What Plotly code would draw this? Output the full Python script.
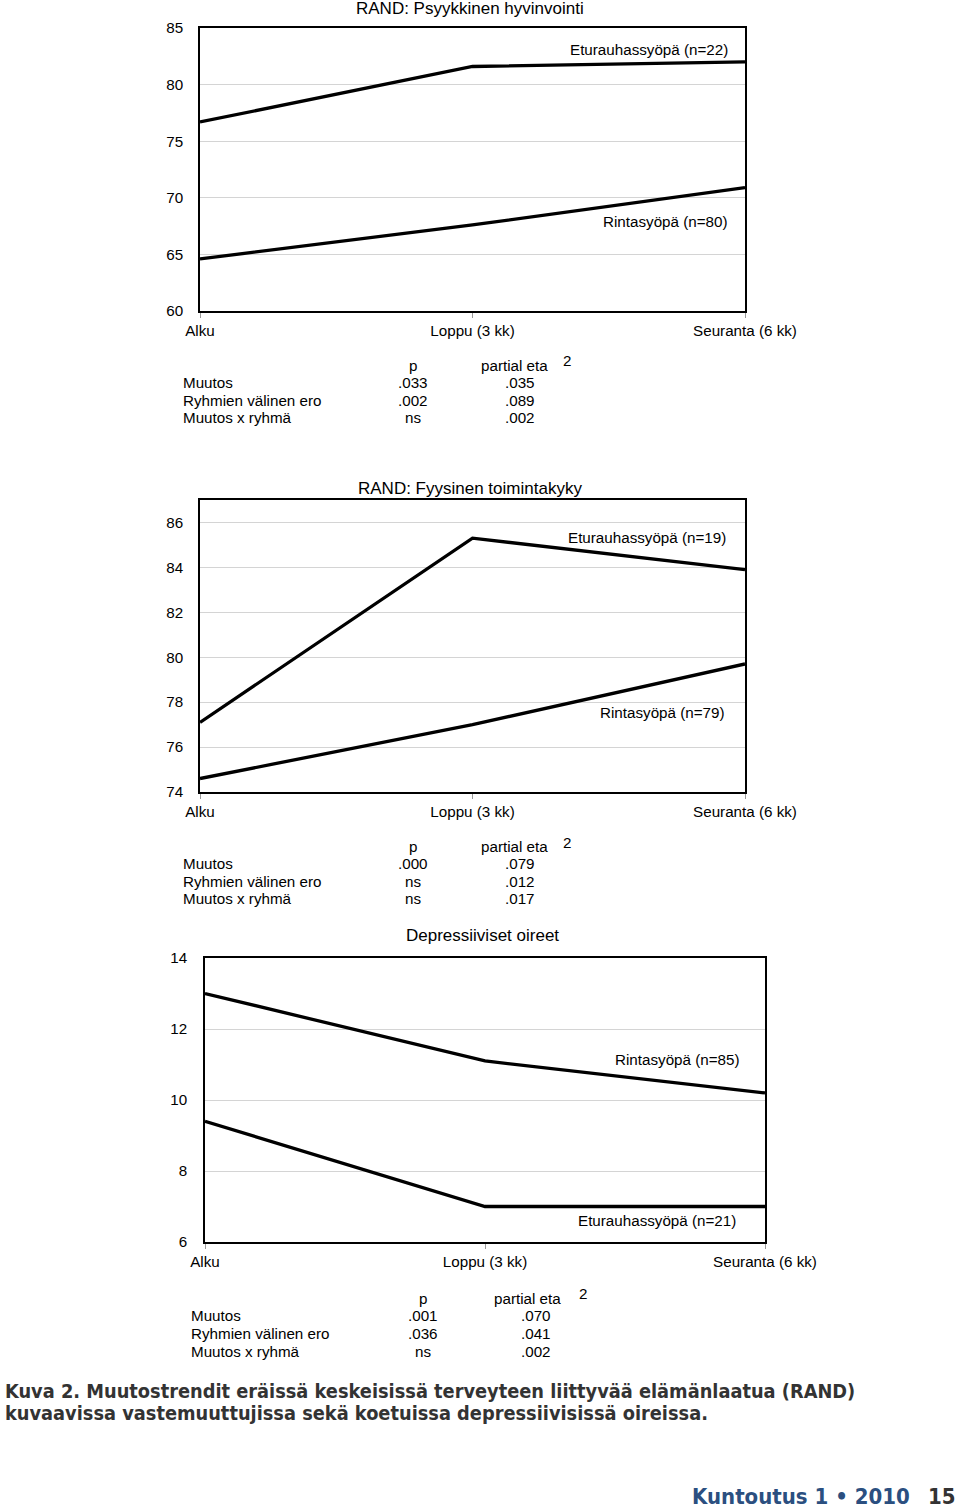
import plotly.graph_objects as go

W, H = 960, 1512

categories = ["Alku", "Loppu (3 kk)", "Seuranta (6 kk)"]

# Panel 1: RAND: Psyykkinen hyvinvointi
psy_title = "RAND: Psyykkinen hyvinvointi"
psy_etu = [76.7, 81.6, 82.0]
psy_rin = [64.6, 67.6, 70.9]
psy_etu_label = "Eturauhassyöpä (n=22)"
psy_rin_label = "Rintasyöpä (n=80)"
psy_ticks = [60, 65, 70, 75, 80, 85]

# Panel 2: RAND: Fyysinen toimintakyky
fyy_title = "RAND: Fyysinen toimintakyky"
fyy_etu = [77.1, 85.3, 83.9]
fyy_rin = [74.6, 77.0, 79.7]
fyy_etu_label = "Eturauhassyöpä (n=19)"
fyy_rin_label = "Rintasyöpä (n=79)"
fyy_ticks = [74, 76, 78, 80, 82, 84, 86]

# Panel 3: Depressiiviset oireet
dep_title = "Depressiiviset oireet"
dep_rin = [13.0, 11.1, 10.2]
dep_etu = [9.4, 7.0, 7.0]
dep_rin_label = "Rintasyöpä (n=85)"
dep_etu_label = "Eturauhassyöpä (n=21)"
dep_ticks = [6, 8, 10, 12, 14]

# Statistics tables
stat_rows = ["Muutos", "Ryhmien välinen ero", "Muutos x ryhmä"]
psy_p = [".033", ".002", "ns"]
psy_eta = [".035", ".089", ".002"]
fyy_p = [".000", "ns", "ns"]
fyy_eta = [".079", ".012", ".017"]
dep_p = [".001", ".036", "ns"]
dep_eta = [".070", ".041", ".002"]

caption_lines = [
    "Kuva 2. Muutostrendit eräissä keskeisissä terveyteen liittyvää elämänlaatua (RAND)",
    "kuvaavissa vastemuuttujissa sekä koetuissa depressiivisissä oireissa.",
]
footer_journal = "Kuntoutus 1 • 2010"
footer_page = "15"


def px(x):
    return x / W


def py(y):
    return 1 - y / H


FONT = "Liberation Sans, Arial, sans-serif"
NARROW = "Liberation Sans Narrow, DejaVu Sans Condensed, sans-serif"
FS = 15.2

fig = go.Figure()
annotations = []

panels = [
    dict(a=psy_etu, b=psy_rin, la=psy_etu_label, lb=psy_rin_label, yr=[60, 85], ticks=psy_ticks,
         x0=200, x1=745, y0=28, y1=311, title=psy_title, ty=8,
         lpos=[(730, 49), (730, 221)], stand=12),
    dict(a=fyy_etu, b=fyy_rin, la=fyy_etu_label, lb=fyy_rin_label, yr=[74, 87], ticks=fyy_ticks,
         x0=200, x1=745, y0=500, y1=792, title=fyy_title, ty=488,
         lpos=[(728, 537), (727, 713)], stand=12),
    dict(a=dep_rin, b=dep_etu, la=dep_rin_label, lb=dep_etu_label, yr=[6, 14], ticks=dep_ticks,
         x0=205, x1=765, y0=958, y1=1242, title=dep_title, ty=935,
         lpos=[(742, 1059), (738, 1220)], stand=13),
]

for i, p in enumerate(panels):
    n = "" if i == 0 else str(i + 1)
    xa, ya = "x" + n, "y" + n
    for series in (p["a"], p["b"]):
        fig.add_trace(go.Scatter(
            x=categories, y=series, mode="lines", xaxis=xa, yaxis=ya,
            line=dict(color="black", width=3.3), showlegend=False, hoverinfo="skip",
            cliponaxis=False,
        ))
    common_x = dict(
        domain=[px(p["x0"]), px(p["x1"])], type="category", range=[0, 2],
        showline=True, mirror=True, linecolor="black", linewidth=1.5,
        showgrid=False, ticks="outside", ticklen=5, tickcolor="#999999",
        tickfont=dict(family=FONT, size=FS, color="black"), anchor=ya,
        zeroline=False, automargin=False,
    )
    common_y = dict(
        domain=[py(p["y1"]), py(p["y0"])], range=p["yr"], tickvals=p["ticks"],
        showline=True, mirror=True, linecolor="black", linewidth=1.5,
        showgrid=True, gridcolor="#d4d4d4", gridwidth=1, ticks="",
        ticklabelstandoff=p["stand"], automargin=False,
        tickfont=dict(family=FONT, size=FS, color="black"), anchor=xa, zeroline=False,
    )
    fig.layout["xaxis" + n] = common_x
    fig.layout["yaxis" + n] = common_y

    annotations.append(dict(
        text=p["title"], x=px((p["x0"] + p["x1"]) / 2 - 3), y=py(p["ty"]), xref="paper", yref="paper",
        showarrow=False, xanchor="center", yanchor="middle",
        font=dict(family=FONT, size=17, color="black"),
    ))
    for lab, (lx, ly) in zip((p["la"], p["lb"]), p["lpos"]):
        annotations.append(dict(
            text=lab, x=px(lx), y=py(ly), xref="paper", yref="paper",
            showarrow=False, xanchor="right", yanchor="middle",
            font=dict(family=FONT, size=FS, color="black"),
        ))

# statistics tables
tables = [
    dict(p=psy_p, eta=psy_eta, lx=181, pcx=413, ecx=514, vcx=520, sx=567, hy=365, sy=360, dy=17.5),
    dict(p=fyy_p, eta=fyy_eta, lx=181, pcx=413, ecx=514, vcx=520, sx=567, hy=846, sy=842, dy=17.5),
    dict(p=dep_p, eta=dep_eta, lx=189, pcx=423, ecx=527, vcx=536, sx=583, hy=1298, sy=1293, dy=17.7),
]
sfont = dict(family=FONT, size=FS, color="black")
for t in tables:
    annotations.append(dict(text="p", x=px(t["pcx"]), y=py(t["hy"]), xref="paper", yref="paper",
                            showarrow=False, xanchor="center", yanchor="middle", font=sfont))
    annotations.append(dict(text="partial eta", x=px(t["ecx"]), y=py(t["hy"]), xref="paper", yref="paper",
                            showarrow=False, xanchor="center", yanchor="middle", font=sfont))
    annotations.append(dict(text="2", x=px(t["sx"]), y=py(t["sy"]), xref="paper", yref="paper",
                            showarrow=False, xanchor="center", yanchor="middle", font=sfont))
    for k, row in enumerate(stat_rows):
        yy = py(t["hy"] + t["dy"] * (k + 1))
        annotations.append(dict(text=row, x=px(t["lx"]), y=yy, xref="paper", yref="paper",
                                showarrow=False, xanchor="left", yanchor="middle", font=sfont))
        annotations.append(dict(text=t["p"][k], x=px(t["pcx"]), y=yy, xref="paper", yref="paper",
                                showarrow=False, xanchor="center", yanchor="middle", font=sfont))
        annotations.append(dict(text=t["eta"][k], x=px(t["vcx"]), y=yy, xref="paper", yref="paper",
                                showarrow=False, xanchor="center", yanchor="middle", font=sfont))

# caption
for k, line in enumerate(caption_lines):
    annotations.append(dict(
        text="<b>" + line + "</b>", x=px(3), y=py(1391 + 22.5 * k), xref="paper", yref="paper",
        showarrow=False, xanchor="left", yanchor="middle",
        font=dict(family=NARROW, size=19.8, color="#333333"),
    ))

annotations.append(dict(
    text="<b>" + footer_journal + "</b>", x=px(912), y=py(1496), xref="paper", yref="paper",
    showarrow=False, xanchor="right", yanchor="middle",
    font=dict(family=NARROW, size=22, color="#2b4f80"),
))
annotations.append(dict(
    text="<b>" + footer_page + "</b>", x=px(958), y=py(1496), xref="paper", yref="paper",
    showarrow=False, xanchor="right", yanchor="middle",
    font=dict(family=NARROW, size=22, color="#333333"),
))

fig.update_layout(
    width=W, height=H, margin=dict(l=0, r=0, t=0, b=0, pad=0, autoexpand=False),
    paper_bgcolor="white", plot_bgcolor="white",
    annotations=annotations, showlegend=False,
)

fig.write_html(
    "out.html",
    config={"displayModeBar": False},
    post_script="document.body.style.margin='0';document.body.style.overflow='hidden';",
)
